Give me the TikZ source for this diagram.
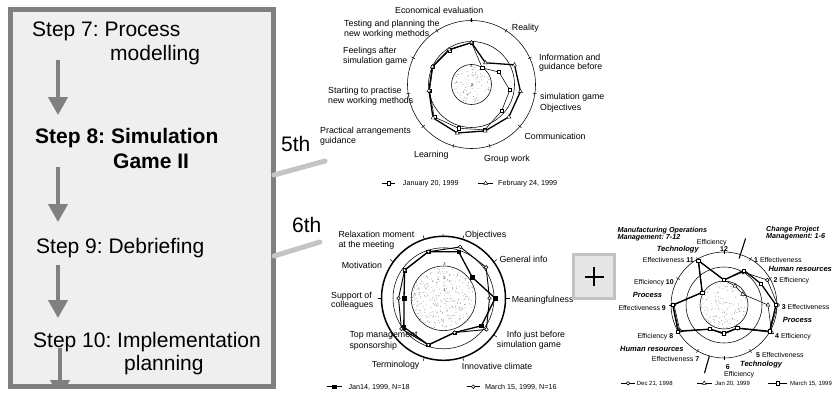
\documentclass[tikz,border=0pt]{standalone}
\usepackage{fontspec}
\setmainfont{Liberation Sans}
\usetikzlibrary{shapes.geometric,arrows.meta,calc}
\frenchspacing

\definecolor{framegray}{HTML}{808080}
\definecolor{panelfill}{HTML}{EFEFEF}
\definecolor{linkgray}{HTML}{C4C4C4}
\definecolor{plusfill}{HTML}{E6E6E6}
\definecolor{plusedge}{HTML}{C2C2C2}
\definecolor{dotgray}{HTML}{6A6A6A}

% random stipple inside a disc: centre, radius, number of dots
\newcommand\stippledisc[3]{%
  \foreach \i in {1,...,#3}{%
    \pgfmathsetmacro\sr{#2*sqrt(rnd)}%
    \pgfmathsetmacro\sa{360*rnd}%
    \fill[dotgray] ([shift={(\sa:\sr pt)}]#1) circle (0.36pt);
  }%
}

\tikzset{
  steptext/.style={font=\fontsize{21}{24}\selectfont, inner sep=0pt, anchor=base west},
  stepbold/.style={steptext, font=\fontsize{21}{24}\selectfont\bfseries},
  steparrow/.style={draw=framegray, line width=4pt,
    -{Triangle[width=19pt,length=18pt]}},
  lab/.style={font=\fontsize{8.8}{10}\selectfont, inner sep=0pt, anchor=base west},
  smalllab/.style={font=\fontsize{7}{8}\selectfont, inner sep=0pt, anchor=base west},
  grouplab/.style={font=\fontsize{7.5}{9}\selectfont\bfseries\itshape, inner sep=0pt, anchor=base west},
  titlelab/.style={font=\fontsize{7.2}{9}\selectfont\bfseries\itshape, inner sep=0pt, anchor=base west},
  leglab/.style={font=\fontsize{7.2}{9}\selectfont, inner sep=0pt, anchor=base west},
  tinynum/.style={font=\fontsize{4}{4}\selectfont, inner sep=0pt},
  ordlab/.style={font=\fontsize{21}{24}\selectfont, inner sep=0pt, anchor=base west},
  ring/.style={draw=black, line width=0.55pt},
  mkSq/.style={rectangle, draw, fill=white, minimum size=3.2pt, inner sep=0pt, line width=0.45pt},
  mkFSq/.style={rectangle, draw, fill=black, minimum size=3.6pt, inner sep=0pt, line width=0.45pt},
  mkTri/.style={regular polygon, regular polygon sides=3, draw, fill=white, minimum size=4.6pt, inner sep=0pt, line width=0.45pt},
  mkCirc/.style={circle, draw, fill=white, minimum size=3.6pt, inner sep=0pt, line width=0.55pt},
  thinser/.style={draw=black, line width=0.55pt, line join=round},
  thickser/.style={draw=black, line width=1.3pt, line join=round},
}

\begin{document}
\begin{tikzpicture}[x=1pt,y=-1pt]
\useasboundingbox (0,0) rectangle (832,396);
\fill[white] (0,0) rectangle (832,396);

% ---------------- process panel ----------------
\fill[panelfill] (10,10) rectangle (273,386);
\node[steptext] (s7a) at (32,37) {Step 7: Process};
\node[steptext] (s7b) at (110,60) {modelling};
\node[stepbold] (s8a) at (35,143) {Step 8: Simulation};
\node[stepbold] (s8b) at (113,168) {Game II};
\node[steptext] (s9)  at (36,253) {Step 9: Debriefing};
\node[steptext] (s10a) at (33,347) {Step 10: Implementation};
\node[steptext] (s10b) at (124,370) {planning};

\coordinate (a1s) at (58,60);  \coordinate (a1e) at (58,115);
\coordinate (a2s) at (58,167); \coordinate (a2e) at (58,222);
\coordinate (a3s) at (58,265); \coordinate (a3e) at (58,318);
\coordinate (a4s) at (60,348); \coordinate (a4e) at (60,398);
\draw[steparrow] (a1s) -- (a1e);
\draw[steparrow] (a2s) -- (a2e);
\draw[steparrow] (a3s) -- (a3e);
\begin{scope}
  \clip (10,10) rectangle (273,386);
  \draw[steparrow] (a4s) -- (a4e);
\end{scope}
\draw[framegray, line width=5pt] (10,10) rectangle (273,386);

% links from the panel to the two sessions
\coordinate (l5a) at (274,175); \coordinate (l5b) at (325,161);
\coordinate (l6a) at (274,256); \coordinate (l6b) at (320,242);
\draw[linkgray, line width=5pt, line cap=round] (l5a) -- (l5b);
\draw[linkgray, line width=5pt, line cap=round] (l6a) -- (l6b);
\node[ordlab] (o5) at (281,151) {5th};
\node[ordlab] (o6) at (292,232) {6th};

% ---------------- chart A: 5th session ----------------
\coordinate (cA) at (471.5,84.5);
\node[lab] (A0)  at (395,14) {Economical evaluation};
\node[lab] (A10a) at (344,27) {Testing and planning the};
\node[lab] (A10b) at (344,36.5) {new working methods};
\node[lab] (A1)  at (511.7,30.5) {Reality};
\node[lab] (A9a) at (343,53) {Feelings after};
\node[lab] (A9b) at (343,63.5) {simulation game};
\node[lab] (A2a) at (539,60.3) {Information and};
\node[lab] (A2b) at (539,69.5) {guidance before};
\node[lab] (A3a) at (540,99.5) {simulation game};
\node[lab] (A3b) at (540,110) {Objectives};
\node[lab] (A4)  at (524.3,139.5) {Communication};
\node[lab] (A5)  at (484,161) {Group work};
\node[lab] (A6)  at (414,157) {Learning};
\node[lab] (A7a) at (320,133.5) {Practical arrangements};
\node[lab] (A7b) at (320,143.5) {guidance};
\node[lab] (A8a) at (328,93.5) {Starting to practise};
\node[lab] (A8b) at (328,103.5) {new working methods};

\draw[ring] (cA) circle (64pt);
\draw[ring] (cA) circle (43pt);
\draw[ring] (cA) circle (20pt);
\pgfmathsetseed{11}
\stippledisc{cA}{19.3}{110}
\foreach \k in {0,...,10}
  \draw[line width=0.5pt] ([shift={({90-\k*360/11}:62pt)}]cA) -- ([shift={({90-\k*360/11}:66pt)}]cA);
\node[tinynum] (An5) at (471.5,21.5) {5};
\node[tinynum] (An4) at (473,43) {4};
\node[tinynum] (An3) at (471.5,66.5) {3};
\node[tinynum] (An2) at (472,85) {2};

\foreach \v [count=\k from 0] in {3.95,2.92,3.4,3.8,3.86,4.2,4.12,4.3,3.97,3.97,3.9}
  \coordinate (A1-\k) at ([shift={({90-\k*360/11}:{(\v-2)*21.5pt})}]cA);
\foreach \v [count=\k from 0] in {3.95,3.2,4.2,4.3,4.3,4.25,4.35,4.37,4.0,4.0,3.93}
  \coordinate (A2-\k) at ([shift={({90-\k*360/11}:{(\v-2)*21.5pt})}]cA);
\draw[thinser] (A1-0) \foreach \k in {1,...,10}{ -- (A1-\k)} -- cycle;
\draw[thickser] (A2-0) \foreach \k in {1,...,10}{ -- (A2-\k)} -- cycle;
\foreach \k in {0,...,10} \node[mkSq] (A1m\k) at (A1-\k) {};
\foreach \k in {0,...,10} \node[mkTri] (A2m\k) at (A2-\k) {};

% legend A
\coordinate (LA1a) at (381.7,183.3); \coordinate (LA1b) at (395,183.3);
\coordinate (LA2a) at (478,183.3);   \coordinate (LA2b) at (493.3,183.3);
\draw[thinser] (LA1a) -- (LA1b);
\node[mkSq] (LA1m) at ($(LA1a)!0.5!(LA1b)$) {};
\node[leglab] (LA1t) at (402.7,185.8) {January 20, 1999};
\draw[thickser] (LA2a) -- (LA2b);
\node[mkTri] (LA2m) at ($(LA2a)!0.5!(LA2b)$) {};
\node[leglab] (LA2t) at (498,185.8) {February 24, 1999};

% ---------------- chart B: 6th session ----------------
\coordinate (cB) at (443.5,298.3);
\node[lab] (B9a) at (338.3,237.3) {Relaxation moment};
\node[lab] (B9b) at (338.3,247.3) {at the meeting};
\node[lab] (B0)  at (465,237.3) {Objectives};
\node[lab] (B1)  at (499.3,262.3) {General info};
\node[lab] (B2)  at (511.7,302.3) {Meaningfulness};
\node[lab] (B3a) at (506.7,337) {Info just before};
\node[lab] (B3b) at (496.7,347) {simulation game};
\node[lab] (B4)  at (461.7,369) {Innovative climate};
\node[lab] (B5)  at (371.7,367) {Terminology};
\node[lab] (B6a) at (349.3,337) {Top management};
\node[lab] (B6b) at (349.3,348) {sponsorship};
\node[lab] (B7a) at (331,298) {Support of};
\node[lab] (B7b) at (331,307.3) {colleagues};
\node[lab] (B8)  at (341.7,268.7) {Motivation};

\draw[black, line width=1.5pt] (cB) circle (62pt);
\draw[ring] (cB) circle (50.5pt);
\draw[ring] (cB) circle (32.3pt);
\pgfmathsetseed{5}
\stippledisc{cB}{31.6}{330}
\foreach \k in {0,...,9}
  \draw[line width=0.5pt] ([shift={({72-\k*36}:62pt)}]cB) -- ([shift={({72-\k*36}:66pt)}]cB);
\node[tinynum] (Bn5) at (443.5,236) {5};
\node[tinynum] (Bn4) at (444.5,249) {4};
\node[tinynum] (Bn3) at (444.5,264) {3};
\node[tinynum] (Bn2) at (444.5,278) {2};
\node[tinynum] (Bn1) at (444.5,290) {1};

\foreach \r [count=\k from 0] in {49,35.6,51.7,46.8,36,49,49,39.5,48,49}
  \coordinate (B1-\k) at ([shift={({72-\k*36}:\r pt)}]cB);
\foreach \r [count=\k from 0] in {54,52.7,46,53,36,49,52,45,48,49}
  \coordinate (B2-\k) at ([shift={({72-\k*36}:\r pt)}]cB);
\draw[thickser] (B1-0) \foreach \k in {1,...,9}{ -- (B1-\k)} -- cycle;
\draw[thinser, line width=0.9pt] (B2-0) \foreach \k in {1,...,9}{ -- (B2-\k)} -- cycle;
\foreach \k in {0,...,9} \node[mkFSq] (B1m\k) at (B1-\k) {};
\foreach \k in {0,...,9} \node[mkCirc] (B2m\k) at (B2-\k) {};

% legend B
\coordinate (LB1a) at (326.7,386.7); \coordinate (LB1b) at (341.7,386.7);
\coordinate (LB2a) at (466.7,386.7); \coordinate (LB2b) at (480,386.7);
\draw[thickser] (LB1a) -- (LB1b);
\node[mkFSq] (LB1m) at ($(LB1a)!0.5!(LB1b)$) {};
\node[leglab] (LB1t) at (348.3,389.2) {Jan14, 1999, N=18};
\draw[thickser] (LB2a) -- (LB2b);
\node[mkCirc] (LB2m) at ($(LB2a)!0.5!(LB2b)$) {};
\node[leglab] (LB2t) at (485,389.2) {March 15, 1999, N=16};

% ---------------- chart C: project assessment ----------------
\coordinate (cC) at (724,305);
\node[titlelab] (Ct1a) at (617.3,232) {Manufacturing Operations};
\node[titlelab] (Ct1b) at (617.3,239.4) {Management: 7-12};
\node[titlelab] (Ct2a) at (766,231) {Change Project};
\node[titlelab] (Ct2b) at (766,238.7) {Management: 1-6};

\node[smalllab] (C12a) at (696.7,244) {Efficiency};
\node[smalllab] (C12b) at (720,251.3) {\bfseries 12};
\node[smalllab] (C11) at (642.7,262.5) {Effectiveness \bfseries 11};
\node[smalllab] (C1)  at (754,262) {\bfseries 1 \mdseries Effectiveness};
\node[smalllab] (C2)  at (773.3,282.5) {\bfseries 2 \mdseries Efficiency};
\node[smalllab] (C10) at (634,284.2) {Efficiency \bfseries 10};
\node[smalllab] (C9)  at (618.3,310.8) {Effectiveness \bfseries 9};
\node[smalllab] (C3)  at (781.7,309.2) {\bfseries 3 \mdseries Effectiveness};
\node[smalllab] (C8)  at (637.3,338.5) {Efficiency \bfseries 8};
\node[smalllab] (C4)  at (775,338.5) {\bfseries 4 \mdseries Efficiency};
\node[smalllab] (C7)  at (651.7,361.8) {Effectiveness \bfseries 7};
\node[smalllab] (C5)  at (756,357.5) {\bfseries 5 \mdseries Effectiveness};
\node[smalllab] (C6a) at (725.7,369) {\bfseries 6};
\node[smalllab] (C6b) at (724,376.5) {Efficiency};

\node[grouplab] (Cg1) at (656.7,251.7) {Technology};
\node[grouplab] (Cg2) at (768.3,271) {Human resources};
\node[grouplab] (Cg3) at (632.7,297.7) {Process};
\node[grouplab] (Cg4) at (782.7,322.7) {Process};
\node[grouplab] (Cg5) at (620,351) {Human resources};
\node[grouplab] (Cg6) at (740,366.7) {Technology};

\draw[ring] (cC) circle (53pt);
\draw[ring] (cC) circle (38pt);
\draw[ring] (cC) circle (24pt);
\pgfmathsetseed{3}
\stippledisc{cC}{23.4}{140}
\foreach \n in {1,...,12}
  \draw[line width=0.5pt] ([shift={({90-\n*30}:51pt)}]cC) -- ([shift={({90-\n*30}:55pt)}]cC);
% divider between the two management areas
\coordinate (dv1a) at ([shift={(72:49pt)}]cC);  \coordinate (dv1b) at ([shift={(72:70pt)}]cC);
\coordinate (dv2a) at ([shift={(-106:53pt)}]cC); \coordinate (dv2b) at ([shift={(-106:71pt)}]cC);
\draw[line width=1.1pt] (dv1a) -- (dv1b);
\draw[line width=1.1pt] (dv2a) -- (dv2b);

\foreach \r [count=\n] in {38,50,53.7,53,27,29,28,51,50,25,51,25}
  \coordinate (C1-\n) at ([shift={({90-\n*30}:\r pt)}]cC);
\foreach \r [count=\n] in {22,21.7,44,55,27,29,28,52,51,25,51,25}
  \coordinate (C2-\n) at ([shift={({90-\n*30}:\r pt)}]cC);
\foreach \r [count=\n] in {40,42.6,52,52.6,26.6,28.3,27.8,53,51.3,25.2,51.5,25}
  \coordinate (C3-\n) at ([shift={({90-\n*30}:\r pt)}]cC);
\draw[thinser] (C1-1) \foreach \n in {2,...,12}{ -- (C1-\n)} -- cycle;
\draw[thinser] (C2-1) \foreach \n in {2,...,12}{ -- (C2-\n)} -- cycle;
\draw[thickser] (C3-1) \foreach \n in {2,...,12}{ -- (C3-\n)} -- cycle;
\foreach \n in {1,...,12} \node[mkCirc] (C1m\n) at (C1-\n) {};
\foreach \n in {1,...,12} \node[mkTri] (C2m\n) at (C2-\n) {};
\foreach \n in {1,...,12} \node[mkSq] (C3m\n) at (C3-\n) {};

% legend C
\coordinate (LC1a) at (621,383.3);   \coordinate (LC1b) at (635,383.3);
\coordinate (LC2a) at (696.7,383.3); \coordinate (LC2b) at (711.7,383.3);
\coordinate (LC3a) at (768.3,383.3); \coordinate (LC3b) at (786.7,383.3);
\draw[thinser] (LC1a) -- (LC1b);
\node[mkCirc] (LC1m) at ($(LC1a)!0.5!(LC1b)$) {};
\node[leglab, font=\fontsize{6}{7}\selectfont] (LC1t) at (636.7,385.5) {Dec 21, 1998};
\draw[thinser] (LC2a) -- (LC2b);
\node[mkTri] (LC2m) at ($(LC2a)!0.5!(LC2b)$) {};
\node[leglab, font=\fontsize{6}{7}\selectfont] (LC2t) at (715,385.5) {Jan 20, 1999};
\draw[thickser] (LC3a) -- (LC3b);
\node[mkSq] (LC3m) at ($(LC3a)!0.5!(LC3b)$) {};
\node[leglab, font=\fontsize{6}{7}\selectfont] (LC3t) at (790,385.5) {March 15, 1999};

% ---------------- plus sign between the charts ----------------
\node[draw=plusedge, fill=plusfill, line width=3pt, minimum width=41pt, minimum height=44pt, inner sep=0pt] (plus) at (594.3,276.7) {};
\draw[line width=2.3pt] ([xshift=-9.5pt]plus.center) -- ([xshift=9.5pt]plus.center);
\draw[line width=2.3pt] ([yshift=-9.5pt]plus.center) -- ([yshift=9.5pt]plus.center);

\end{tikzpicture}
\end{document}
